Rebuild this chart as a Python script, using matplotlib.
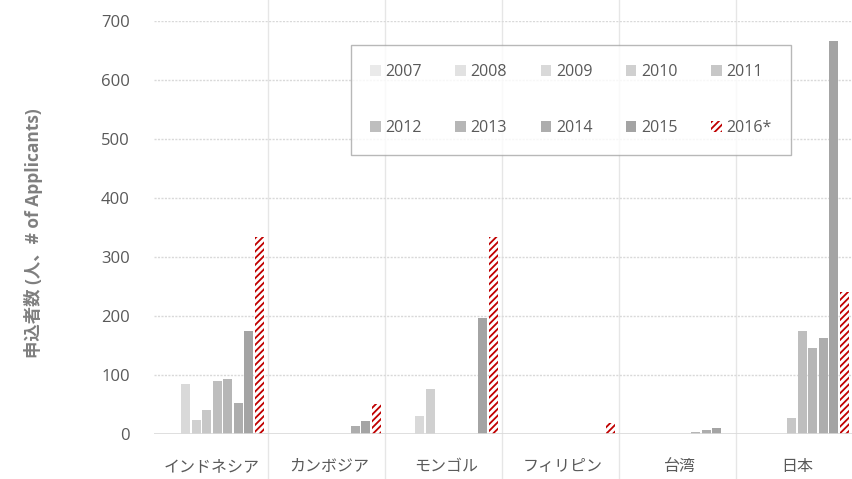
import numpy as np
import matplotlib
matplotlib.use('Agg')
import matplotlib.pyplot as plt

plt.rcParams['font.family'] = ['Open Sans', 'Noto Sans CJK JP', 'DejaVu Sans']
plt.rcParams['hatch.linewidth'] = 1.3

# data
countries = ['インドネシア', 'カンボジア', 'モンゴル', 'フィリピン', '台湾', '日本']
years = ['2007', '2008', '2009', '2010', '2011', '2012', '2013', '2014', '2015', '2016*']

v2007 = [0, 0, 0, 0, 0, 0]
v2008 = [0, 0, 0, 0, 0, 0]
v2009 = [84, 0, 31, 0, 0, 0]
v2010 = [24, 0, 77, 0, 0, 0]
v2011 = [41, 0, 0, 0, 0, 27]
v2012 = [89, 0, 0, 0, 0, 175]
v2013 = [93, 0, 0, 0, 4, 145]
v2014 = [52, 14, 0, 0, 7, 163]
v2015 = [174, 22, 196, 0, 11, 666]
v2016 = [334, 51, 333, 18, 0, 240]
series = [v2007, v2008, v2009, v2010, v2011, v2012, v2013, v2014, v2015, v2016]

grey_shades = ['#EAEAEA', '#E2E2E2', '#D9D9D9', '#D0D0D0', '#C7C7C7',
               '#BEBEBE', '#B6B6B6', '#ADADAD', '#A4A4A4']
text_col = '#595959'
grid_col = '#D9D9D9'

fig = plt.figure(figsize=(8.52, 4.79), dpi=100)
ax = fig.add_axes([0.1802, 0.0939, 0.8239, 0.863])

x = np.arange(len(countries))
slot = 0.09
bar_w = 0.078
handles = []
for k, (yr, vals) in enumerate(zip(years, series)):
    pos = x - 0.45 + slot * (k + 0.5)
    if k < 9:
        b = ax.bar(pos, vals, width=bar_w, color=grey_shades[k], linewidth=0,
                   label=yr, zorder=3)
    else:
        b = ax.bar(pos, vals, width=bar_w, color='white', edgecolor='#C00000',
                   hatch='/////', linewidth=0, label=yr, zorder=3)
    handles.append(b)

ax.set_xlim(-0.5, 5.5)
ax.set_ylim(0, 700)
ax.set_yticks(range(0, 701, 100))
ax.set_xticks(x)
ax.set_xticklabels(countries)

for s in ax.spines.values():
    s.set_visible(False)
ax.tick_params(axis='y', length=0, pad=17, labelsize=12, labelcolor=text_col)
ax.tick_params(axis='x', length=0, pad=18, labelsize=11.5, labelcolor=text_col)

# gridlines
for yv in range(100, 701, 100):
    ax.axhline(yv, color=grid_col, lw=1, ls=(0, (1.5, 1)), zorder=1)
ax.axhline(0, color=grid_col, lw=1.2, zorder=4)
for b in x[:-1] + 0.475:
    ax.vlines(b, -0.12, 1.1, transform=ax.get_xaxis_transform(),
              color='#E6E6E6', lw=1, clip_on=False, zorder=0)

ax.set_ylabel('申込者数 (人、# of Applicants)', fontsize=12.5,
              fontweight='bold', color='#7F7F7F')
ax.yaxis.set_label_coords(-0.158, 0.485)

# legend filled row by row (matplotlib fills columns first)
order = [0, 5, 1, 6, 2, 7, 3, 8, 4, 9]
leg = ax.legend([handles[i] for i in order], [years[i] for i in order],
                ncol=5, loc='lower left', mode='expand',
                bbox_to_anchor=(351 / 852, 1 - 155 / 479, 440 / 852, 112 / 479),
                bbox_transform=fig.transFigure, fontsize=11.5,
                handlelength=0.65, handleheight=0.65, handletextpad=0.3,
                labelspacing=2.5, borderpad=1.2, borderaxespad=0,
                frameon=True, fancybox=False, labelcolor=text_col)
leg.get_frame().set_edgecolor('#A6A6A6')
leg.get_frame().set_linewidth(1)

fig.savefig('out.png', dpi=100)
